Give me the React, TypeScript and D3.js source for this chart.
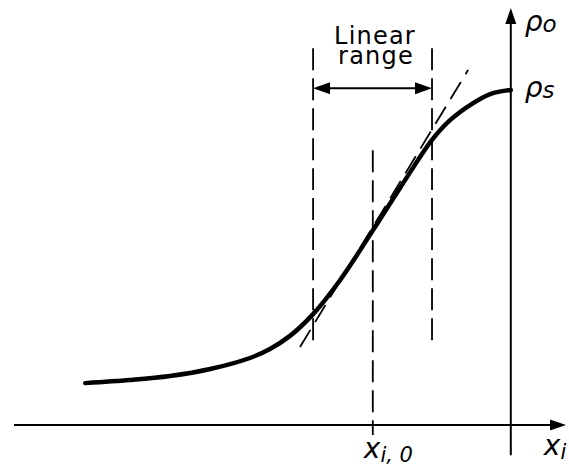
import { useEffect, useRef } from 'react'
import * as d3 from 'd3'

// transfer curve rho_o(x_i), rho_s normalised to 1, x_i axis crossing at 0
const curveX = [-8.48, -7.59, -6.79, -5.99, -5.2, -4.8, -4.4, -3.94, -3.4, -2.77, -2.21, -1.57, -1.21, -0.75, -0.41, 0]
const curveY = [0.125, 0.134, 0.146, 0.167, 0.2, 0.227, 0.266, 0.331, 0.433, 0.576, 0.707, 0.851, 0.91, 0.961, 0.988, 1.0]

const xOperating = -2.75
const linearRange = [-3.94, -1.57]
const tangentX = [-4.2, -0.85]
const tangentY = [0.233, 1.06]
const rhoS = 1

const WIDTH = 569
const HEIGHT = 472
const FONT = '"DejaVu Sans", sans-serif'

export default function App() {
  const svgRef = useRef<SVGSVGElement>(null)

  useEffect(() => {
    if (!svgRef.current) return
    const svg = d3.select(svgRef.current)
    svg.selectAll('*').remove()

    const x = d3.scaleLinear([-9.9, 1.1], [14, 566])
    const y = d3.scaleLinear([0, 1], [425, 90])

    svg.append('rect').attr('width', WIDTH).attr('height', HEIGHT).attr('fill', '#fff')

    const arrow = (tipX: number, tipY: number, dx: number, dy: number, len = 16, half = 5.5) => {
      // dx, dy: unit direction of the arrow
      const bx = tipX - dx * len
      const by = tipY - dy * len
      const px = -dy * half
      const py = dx * half
      svg
        .append('path')
        .attr('d', `M${tipX},${tipY}L${bx + px},${by + py}L${bx - px},${by - py}Z`)
        .attr('fill', '#000')
    }

    // Axes
    svg
      .append('line')
      .attr('x1', x(-9.9))
      .attr('x2', x(1.1) - 8)
      .attr('y1', y(0))
      .attr('y2', y(0))
      .attr('stroke', '#000')
      .attr('stroke-width', 2)
    arrow(x(1.1), y(0), 1, 0)

    svg
      .append('line')
      .attr('x1', x(0))
      .attr('x2', x(0))
      .attr('y1', y(-0.09))
      .attr('y2', y(1.245) + 8)
      .attr('stroke', '#000')
      .attr('stroke-width', 2)
    arrow(x(0), y(1.245), 0, -1)

    // Dashed guides
    const dashed = (x1: number, y1: number, x2: number, y2: number, dash = '22,8') =>
      svg
        .append('line')
        .attr('x1', x(x1))
        .attr('y1', y(y1))
        .attr('x2', x(x2))
        .attr('y2', y(y2))
        .attr('stroke', '#000')
        .attr('stroke-width', 1.8)
        .attr('stroke-dasharray', dash)

    dashed(linearRange[0], 1.125, linearRange[0], 0.23)
    dashed(linearRange[1], 1.125, linearRange[1], 0.23)
    dashed(xOperating, 0.82, xOperating, -0.03)
    dashed(tangentX[0], tangentY[0], tangentX[1], tangentY[1], '20,9')

    // Linear range arrow
    const ya = y(1.005)
    svg
      .append('line')
      .attr('x1', x(linearRange[0]) + 10)
      .attr('x2', x(linearRange[1]) - 10)
      .attr('y1', ya)
      .attr('y2', ya)
      .attr('stroke', '#000')
      .attr('stroke-width', 2)
    arrow(x(linearRange[0]), ya, -1, 0, 17, 6)
    arrow(x(linearRange[1]), ya, 1, 0, 17, 6)

    const rangeLabel = svg
      .append('text')
      .attr('text-anchor', 'middle')
      .attr('font-family', FONT)
      .attr('font-size', 24)
      .attr('letter-spacing', 1.2)
    rangeLabel.append('tspan').attr('x', 375).attr('y', 44).text('Linear')
    rangeLabel.append('tspan').attr('x', 376).attr('y', 64).text('range')

    // Curve
    const pts: [number, number][] = curveX.map((d, i) => [d, curveY[i]])
    const line = d3
      .line<[number, number]>()
      .x((d) => x(d[0]))
      .y((d) => y(d[1]))
      .curve(d3.curveCatmullRom.alpha(0.5))
    svg
      .append('path')
      .attr('d', line(pts))
      .attr('fill', 'none')
      .attr('stroke', '#000')
      .attr('stroke-width', 4.5)
      .attr('stroke-linecap', 'round')

    // Labels
    const label = (tx: number, ty: number, main: string, sub: string, subSize = 20, dy = 4) => {
      const t = svg
        .append('text')
        .attr('x', tx)
        .attr('y', ty)
        .attr('font-family', FONT)
        .attr('font-style', 'italic')
        .attr('font-size', 28)
      t.append('tspan').text(main)
      t.append('tspan').attr('font-size', subSize).attr('dy', dy).text(sub)
    }
    label(x(0) + 14, 31, 'ρ', 'o', 23, 1)
    label(x(0) + 14, y(rhoS) + 7, 'ρ', 's', 23, 1)
    label(x(xOperating) - 9, 458, 'x', 'i, 0', 21, 4)
    label(x(0) + 33, 455, 'x', 'i', 21, 4)
  }, [])

  return (
    <svg
      ref={svgRef}
      width={WIDTH}
      height={HEIGHT}
      style={{ position: 'absolute', left: 0, top: 0 }}
    />
  )
}
